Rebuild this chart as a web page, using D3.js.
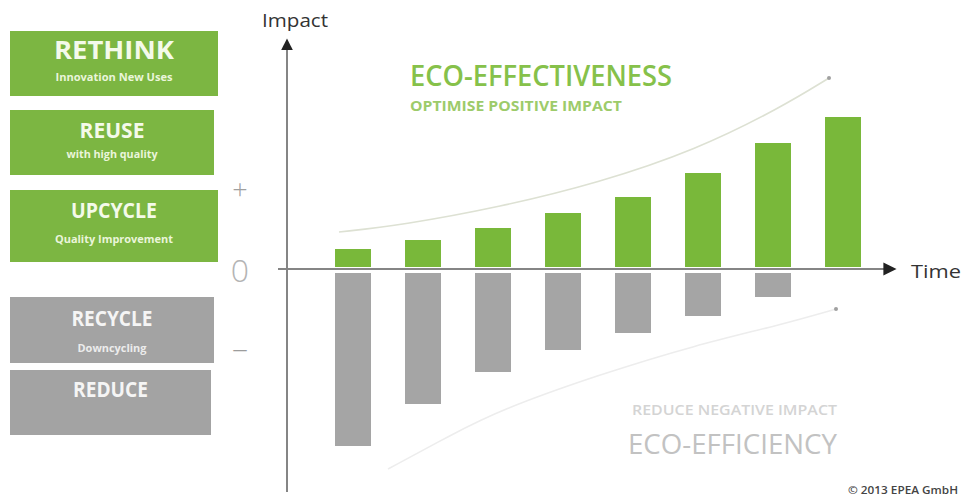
<!DOCTYPE html>
<html><head><meta charset="utf-8">
<script src="https://cdn.jsdelivr.net/npm/d3@7"></script>
<style>body{margin:0;background:#fff;} svg{display:block;font-family:"Open Sans",sans-serif;}</style>
</head><body>
<svg id="c" width="963" height="499"></svg>
<script>
const periods = [1,2,3,4,5,6,7,8];
const positiveImpact = [2.0, 2.9, 4.1, 5.6, 7.2, 9.6, 12.6, 15.2];
const negativeImpact = [-17.7, -13.5, -10.3, -8.1, -6.4, -4.7, -2.8, 0];
const trendPositive = [[-0.2,3.7],[0.7,4.4],[2.1,6.2],[3.5,8.6],[4.9,11.9],[6.1,16.1],[6.8,19.1]];
const trendNegative = [[0.5,-20.0],[1.4,-16.6],[2.1,-14.1],[3.5,-10.6],[4.9,-7.6],[6.1,-5.6],[6.9,-4.0]];
const strategiesUp = [["RETHINK","Innovation New Uses"],["REUSE","with high quality"],["UPCYCLE","Quality Improvement"]];
const strategiesDown = [["RECYCLE","Downcycling"],["REDUCE",""]];
const signLabels = ["+","0","\u2013"];

const svg = d3.select("#c");
const x = d3.scaleBand().domain(periods).range([318,878]).paddingInner(0.486).paddingOuter(0.243);
const y = d3.scaleLinear().domain([-22.1,22.9]).range([490,40]);
const tx = d3.scaleLinear().domain([0,7]).range([x(1)+x.bandwidth()/2, x(8)+x.bandwidth()/2]);

const green = "#79b83a", grey = "#a5a5a5";

function txt(xp, yp, s, size, weight, fill, len, anchor){
  const t = svg.append("text").attr("x",xp).attr("y",yp).attr("font-size",size).attr("font-weight",weight)
    .attr("fill",fill).attr("text-anchor",anchor||"start").text(s);
  if (len) t.attr("textLength",len).attr("lengthAdjust","spacingAndGlyphs");
  return t;
}

// left boxes
const boxUp = [[10,31,208,65],[10,110,204,65],[10,190,208,72]];
const boxDown = [[10,297,204,66],[10,370,201,65]];
const upTitle = [[59,120,25],[138,65,22],[218,86,22]], upSub = [[81,117],[158,91],[243,118]];
strategiesUp.forEach((s,i)=>{
  const b = boxUp[i];
  svg.append("rect").attr("x",b[0]).attr("y",b[1]).attr("width",b[2]).attr("height",b[3]).attr("fill","#7cb642");
  txt(b[0]+b[2]/2, upTitle[i][0], s[0], upTitle[i][2], 700, "#f4faea", upTitle[i][1], "middle");
  txt(b[0]+b[2]/2, upSub[i][0], s[1], 10, 700, "#eaf5da", upSub[i][1], "middle");
});
const downTitle = [[326,81],[397,75]], downSub = [[352,69]];
strategiesDown.forEach((s,i)=>{
  const b = boxDown[i];
  svg.append("rect").attr("x",b[0]).attr("y",b[1]).attr("width",b[2]).attr("height",b[3]).attr("fill","#a3a3a3");
  txt(b[0]+b[2]/2, downTitle[i][0], s[0], 21, 700, "#f5f5f5", downTitle[i][1], "middle");
  if (s[1]) txt(b[0]+b[2]/2, downSub[i][0], s[1], 10, 700, "#ececec", downSub[i][1], "middle");
});

// sign labels
txt(240, 199, signLabels[0], 27, 300, "#a0a0a0", null, "middle");
txt(240, 282, signLabels[1], 32, 300, "#b4b4b4", null, "middle");
txt(240, 358, signLabels[2], 26, 300, "#9c9c9c", 16, "middle");

// bars
svg.selectAll(".pos").data(periods).join("rect")
  .attr("x",d=>x(d)).attr("width",x.bandwidth())
  .attr("y",(d,i)=>y(positiveImpact[i])).attr("height",(d,i)=>y(0)-2-y(positiveImpact[i]))
  .attr("fill",green);
svg.selectAll(".neg").data(periods.filter((d,i)=>negativeImpact[i]<0)).join("rect")
  .attr("x",d=>x(d)).attr("width",x.bandwidth())
  .attr("y",y(0)+4).attr("height",(d,i)=>y(negativeImpact[i])-y(0)-4)
  .attr("fill",grey);

// trend curves
const line = d3.line().x(d=>tx(d[0])).y(d=>y(d[1])).curve(d3.curveBasis);
svg.append("path").attr("d",line(trendPositive)).attr("fill","none").attr("stroke","#dde1d3").attr("stroke-width",1.6);
svg.append("path").attr("d",line(trendNegative)).attr("fill","none").attr("stroke","#ededed").attr("stroke-width",1.6);
[trendPositive, trendNegative].forEach(t=>{
  const p = t[t.length-1];
  svg.append("circle").attr("cx",tx(p[0])).attr("cy",y(p[1])).attr("r",2).attr("fill","#a0a0a0");
});

// axes
const defs = svg.append("defs");
defs.append("marker").attr("id","ah").attr("viewBox","0 0 10 10").attr("refX",2).attr("refY",5)
  .attr("markerWidth",6).attr("markerHeight",6).attr("orient","auto")
  .append("path").attr("d","M0,0L10,5L0,10z").attr("fill","#222");
svg.append("line").attr("x1",278).attr("x2",886).attr("y1",y(0)).attr("y2",y(0))
  .attr("stroke","#858585").attr("stroke-width",2.2).attr("marker-end","url(#ah)");
svg.append("line").attr("x1",287).attr("x2",287).attr("y1",492).attr("y2",48)
  .attr("stroke","#858585").attr("stroke-width",2).attr("marker-end","url(#ah)");
txt(262, 27, "Impact", 19, 400, "#333", 66);
txt(911, y(0)+9, "Time", 19, 400, "#333", 50);

// titles
txt(410, 86, "ECO-EFFECTIVENESS", 28, 600, "#86c14a", 262);
txt(410, 111, "OPTIMISE POSITIVE IMPACT", 14, 700, "#9dcb6a", 212);
txt(632, 415, "REDUCE NEGATIVE IMPACT", 14, 600, "#d4d4d4", 205);
txt(628, 454, "ECO-EFFICIENCY", 28, 400, "#c2c2c2", 209);
txt(958, 494, "\u00a9 2013 EPEA GmbH", 10, 600, "#444", 110, "end");
</script>
</body></html>
